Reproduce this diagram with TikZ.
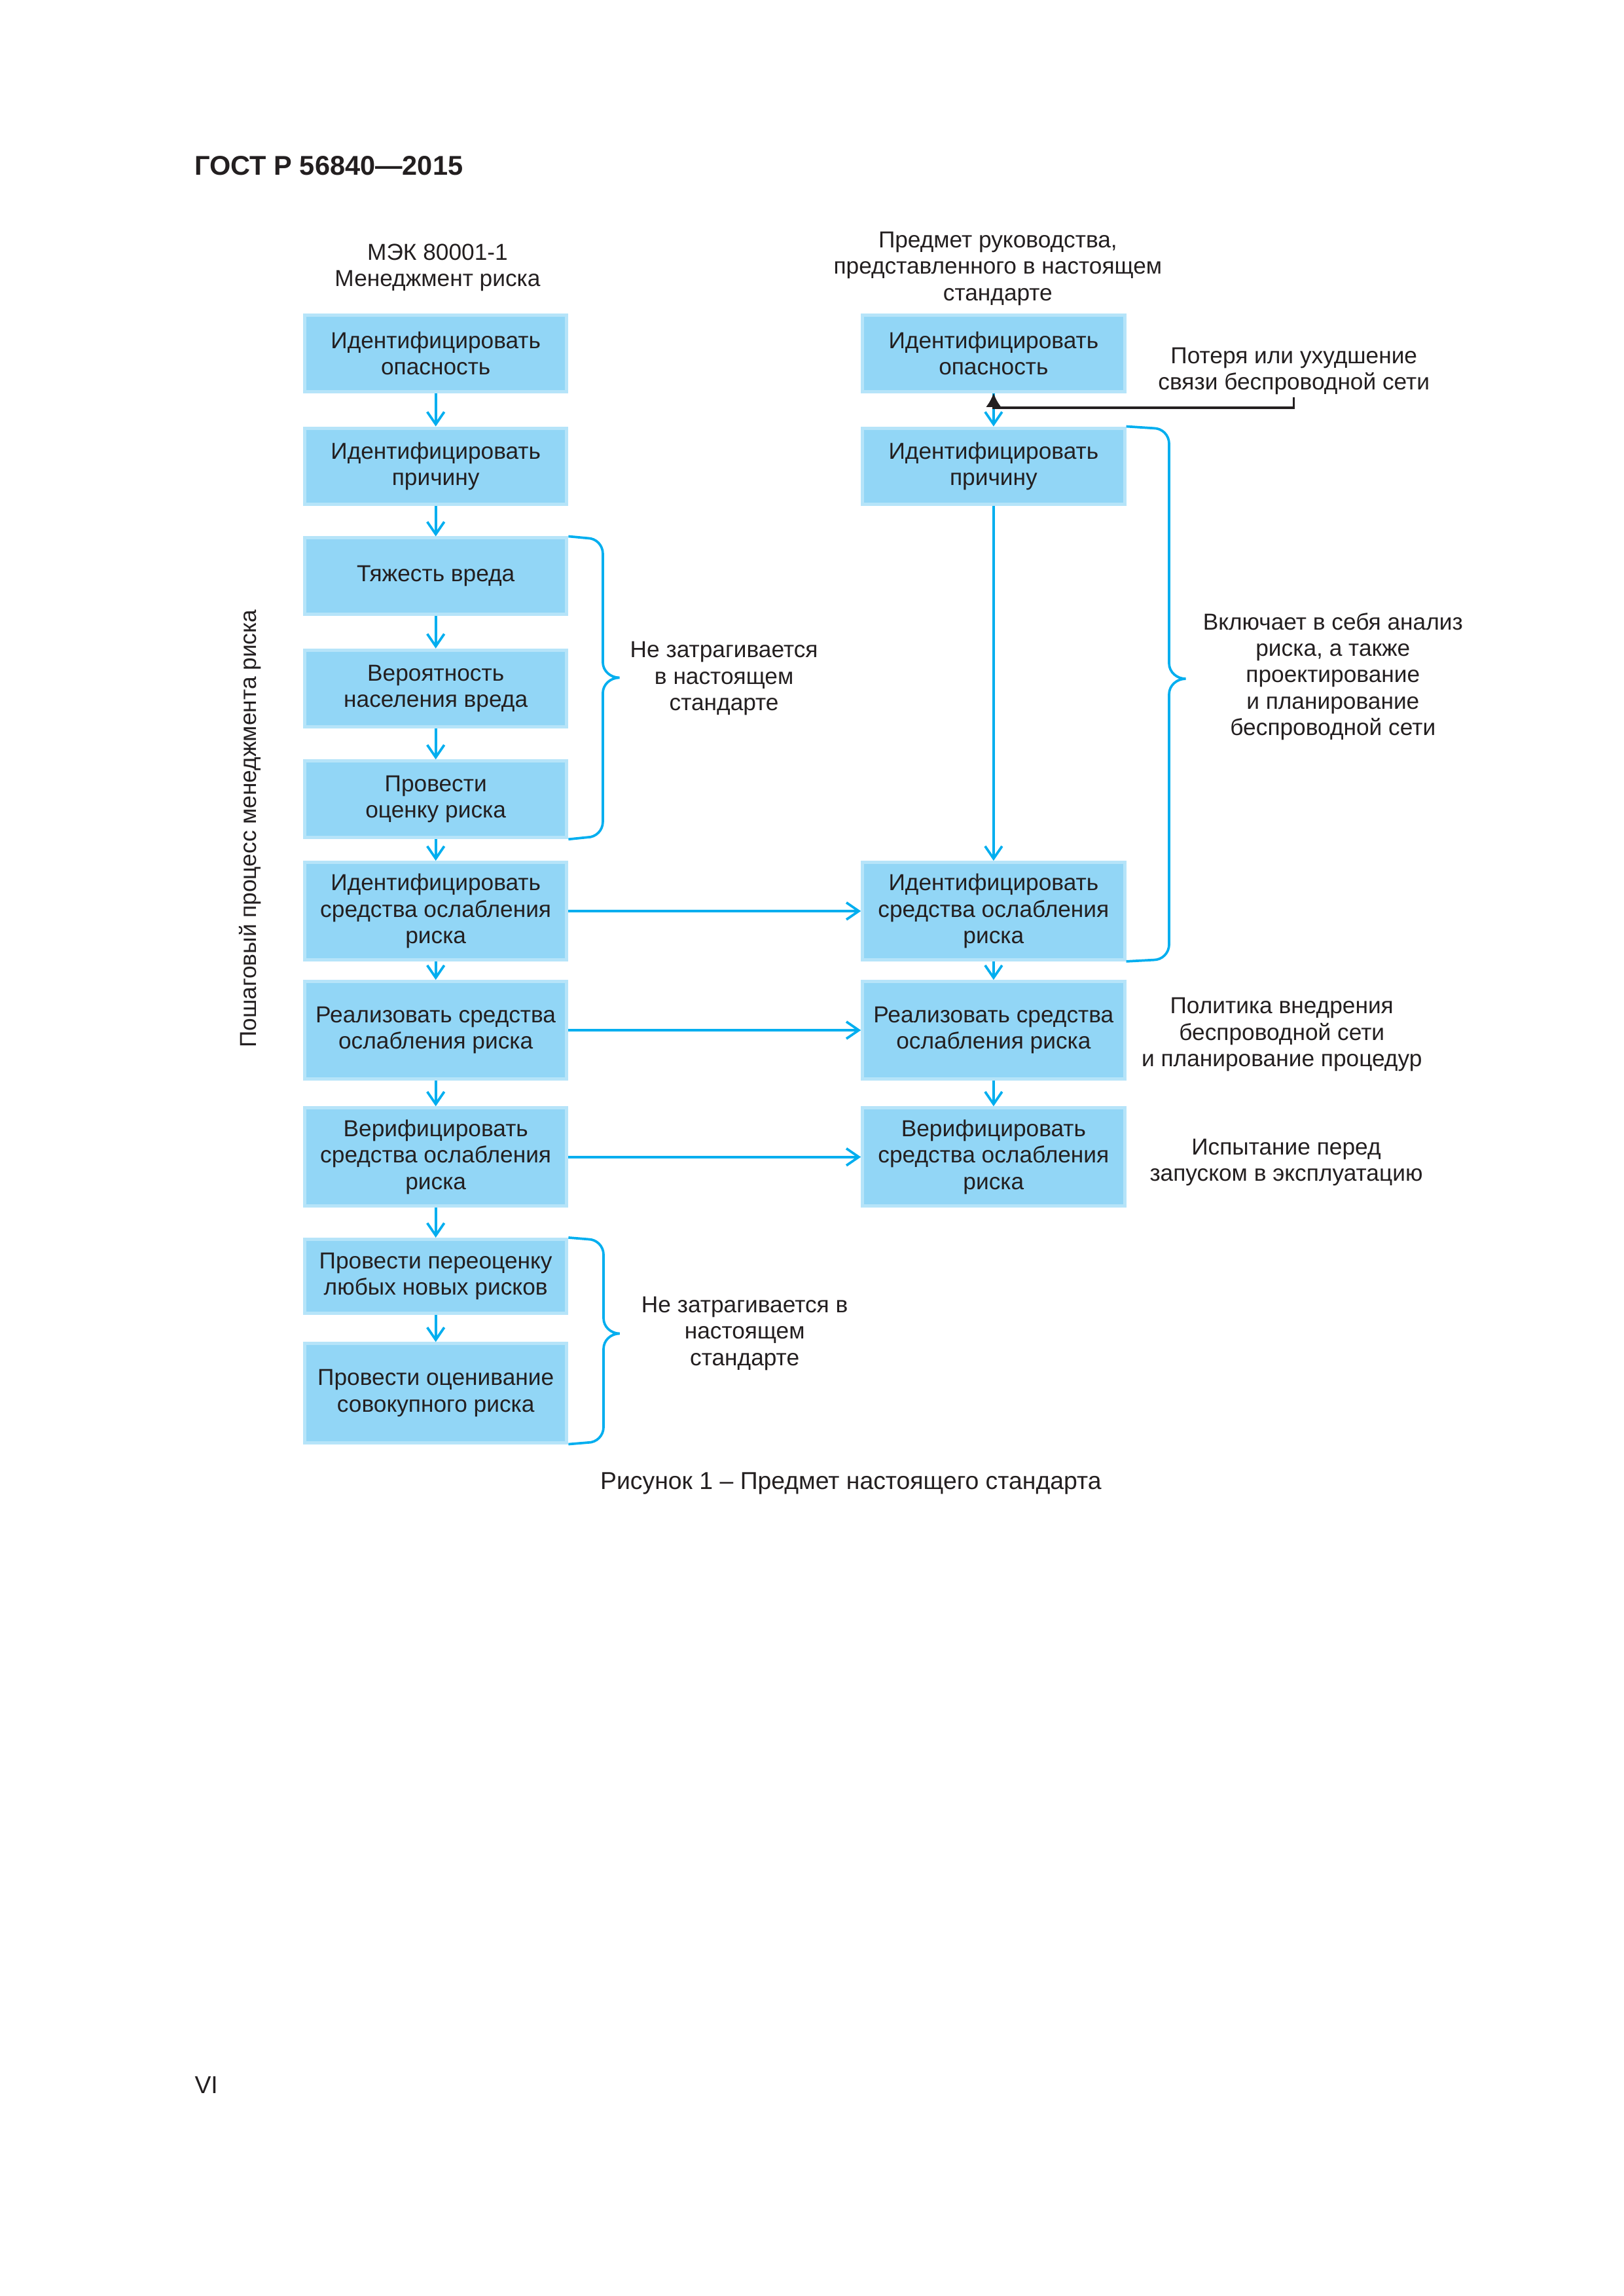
\documentclass[tikz,border=0pt]{standalone}
\usepackage{fontspec}
\setmainfont{Liberation Sans}
\usetikzlibrary{arrows.meta}
\definecolor{boxfill}{RGB}{146,214,246}
\definecolor{boxline}{RGB}{182,228,249}
\definecolor{arrblue}{RGB}{0,174,239}
\definecolor{txt}{RGB}{35,31,32}

\begin{document}
\begin{tikzpicture}[
 box/.style={draw=boxline,line width=1.2pt,fill=boxfill,minimum width=3.39cm,inner sep=0pt,align=center,text=txt,font=\fontsize{8.5}{9.7}\selectfont},
 note/.style={align=center,text=txt,font=\fontsize{8.5}{9.7}\selectfont},
 arr/.style={draw=arrblue,line width=0.9pt,-{Straight Barb[length=1.6mm,width=2.2mm]}},
 brk/.style={draw=arrblue,line width=0.9pt}]
 \useasboundingbox (0,0) rectangle (21,-29.7);
 \node[anchor=west,inner sep=0pt,text=txt,font=\bfseries\fontsize{10}{12}\selectfont] (gost) at (2.513,-2.145) {ГОСТ Р 56840—2015};
 \node[note] (iec) at (5.66,-3.46) {МЭК 80001-1\\Менеджмент риска};
 \node[note] (subj) at (12.906,-3.475) {Предмет руководства,\\представленного в настоящем\\стандарте};
 \node[note,rotate=90] (side) at (3.237,-10.72) {Пошаговый процесс менеджмента риска};

 % left column
 \node[box,minimum height=0.99cm] (L1) at (5.636,-4.569) {Идентифицировать\\опасность};
 \node[box,minimum height=0.99cm] (L2) at (5.636,-6.032) {Идентифицировать\\причину};
 \node[box,minimum height=0.99cm] (L3) at (5.636,-7.454) {Тяжесть вреда};
 \node[box,minimum height=0.99cm] (L4) at (5.636,-8.904) {Вероятность\\населения вреда};
 \node[box,minimum height=0.99cm] (L5) at (5.636,-10.340) {Провести\\оценку риска};
 \node[box,minimum height=1.26cm] (L6) at (5.636,-11.785) {Идентифицировать\\средства ослабления\\риска};
 \node[box,minimum height=1.26cm] (L7) at (5.636,-13.326) {Реализовать средства\\ослабления риска};
 \node[box,minimum height=1.27cm] (L8) at (5.636,-14.966) {Верифицировать\\средства ослабления\\риска};
 \node[box,minimum height=0.96cm] (L9) at (5.636,-16.51) {Провести переоценку\\любых новых рисков};
 \node[box,minimum height=1.28cm] (L10) at (5.636,-18.02) {Провести оценивание\\совокупного риска};

 % right column
 \node[box,minimum height=0.99cm] (R1) at (12.851,-4.569) {Идентифицировать\\опасность};
 \node[box,minimum height=0.99cm] (R2) at (12.851,-6.032) {Идентифицировать\\причину};
 \node[box,minimum height=1.26cm] (R3) at (12.851,-11.785) {Идентифицировать\\средства ослабления\\риска};
 \node[box,minimum height=1.26cm] (R4) at (12.851,-13.326) {Реализовать средства\\ослабления риска};
 \node[box,minimum height=1.27cm] (R5) at (12.851,-14.966) {Верифицировать\\средства ослабления\\риска};

 \foreach \a/\b in {L1/L2,L2/L3,L3/L4,L4/L5,L5/L6,L6/L7,L7/L8,L8/L9,L9/L10,R1/R2,R2/R3,R3/R4,R4/R5,L6/R3,L7/R4,L8/R5}
  \draw[arr] (\a) -- (\b);

 % loss of link
 \node[note] (loss) at (16.736,-4.798) {Потеря или ухудшение\\связи беспроводной сети};
 \coordinate (lossA) at (16.735,-5.141);
 \coordinate (lossB) at (12.851,-5.274);
 \draw[txt,line width=0.8pt,-{Latex[length=1.8mm,width=2mm]}] (lossA) |- (lossB) -- (R1);

 % braces
 \draw[brk] (L3.north east) -- (7.597,-6.961) to[out=0,in=90] (7.797,-7.161) -- (7.797,-8.566)
  to[out=-90,in=180] (8.012,-8.766) to[out=180,in=90] (7.797,-8.966) -- (7.797,-10.631)
  to[out=-90,in=0] (7.597,-10.831) -- (L5.south east);
 \node[note] (nz1) at (9.365,-8.777) {Не затрагивается\\в настоящем\\стандарте};

 \draw[brk] (R2.north east) -- (14.921,-5.539) to[out=0,in=90] (15.121,-5.739) -- (15.121,-8.58)
  to[out=-90,in=180] (15.336,-8.78) to[out=180,in=90] (15.121,-8.98) -- (15.121,-12.217)
  to[out=-90,in=0] (14.921,-12.417) -- (R3.south east);
 \node[note] (incl) at (17.24,-8.75) {Включает в себя анализ\\риска, а также\\проектирование\\и планирование\\беспроводной сети};

 \node[note] (pol) at (16.579,-13.383) {Политика внедрения\\беспроводной сети\\и планирование процедур};
 \node[note] (test) at (16.636,-15.034) {Испытание перед\\запуском в эксплуатацию};

 \draw[brk] (L9.north east) -- (7.606,-16.03) to[out=0,in=90] (7.806,-16.23) -- (7.806,-17.05)
  to[out=-90,in=180] (8.015,-17.25) to[out=180,in=90] (7.806,-17.45) -- (7.806,-18.46)
  to[out=-90,in=0] (7.606,-18.66) -- (L10.south east);
 \node[note] (nz2) at (9.632,-17.249) {Не затрагивается в\\настоящем\\стандарте};

 \node[text=txt,font=\fontsize{9}{11}\selectfont] (cap) at (11.005,-19.19) {Рисунок 1 – Предмет настоящего стандарта};
 \node[anchor=west,inner sep=0pt,text=txt,font=\fontsize{9}{11}\selectfont] (page) at (2.512,-26.974) {VI};
\end{tikzpicture}
\end{document}
